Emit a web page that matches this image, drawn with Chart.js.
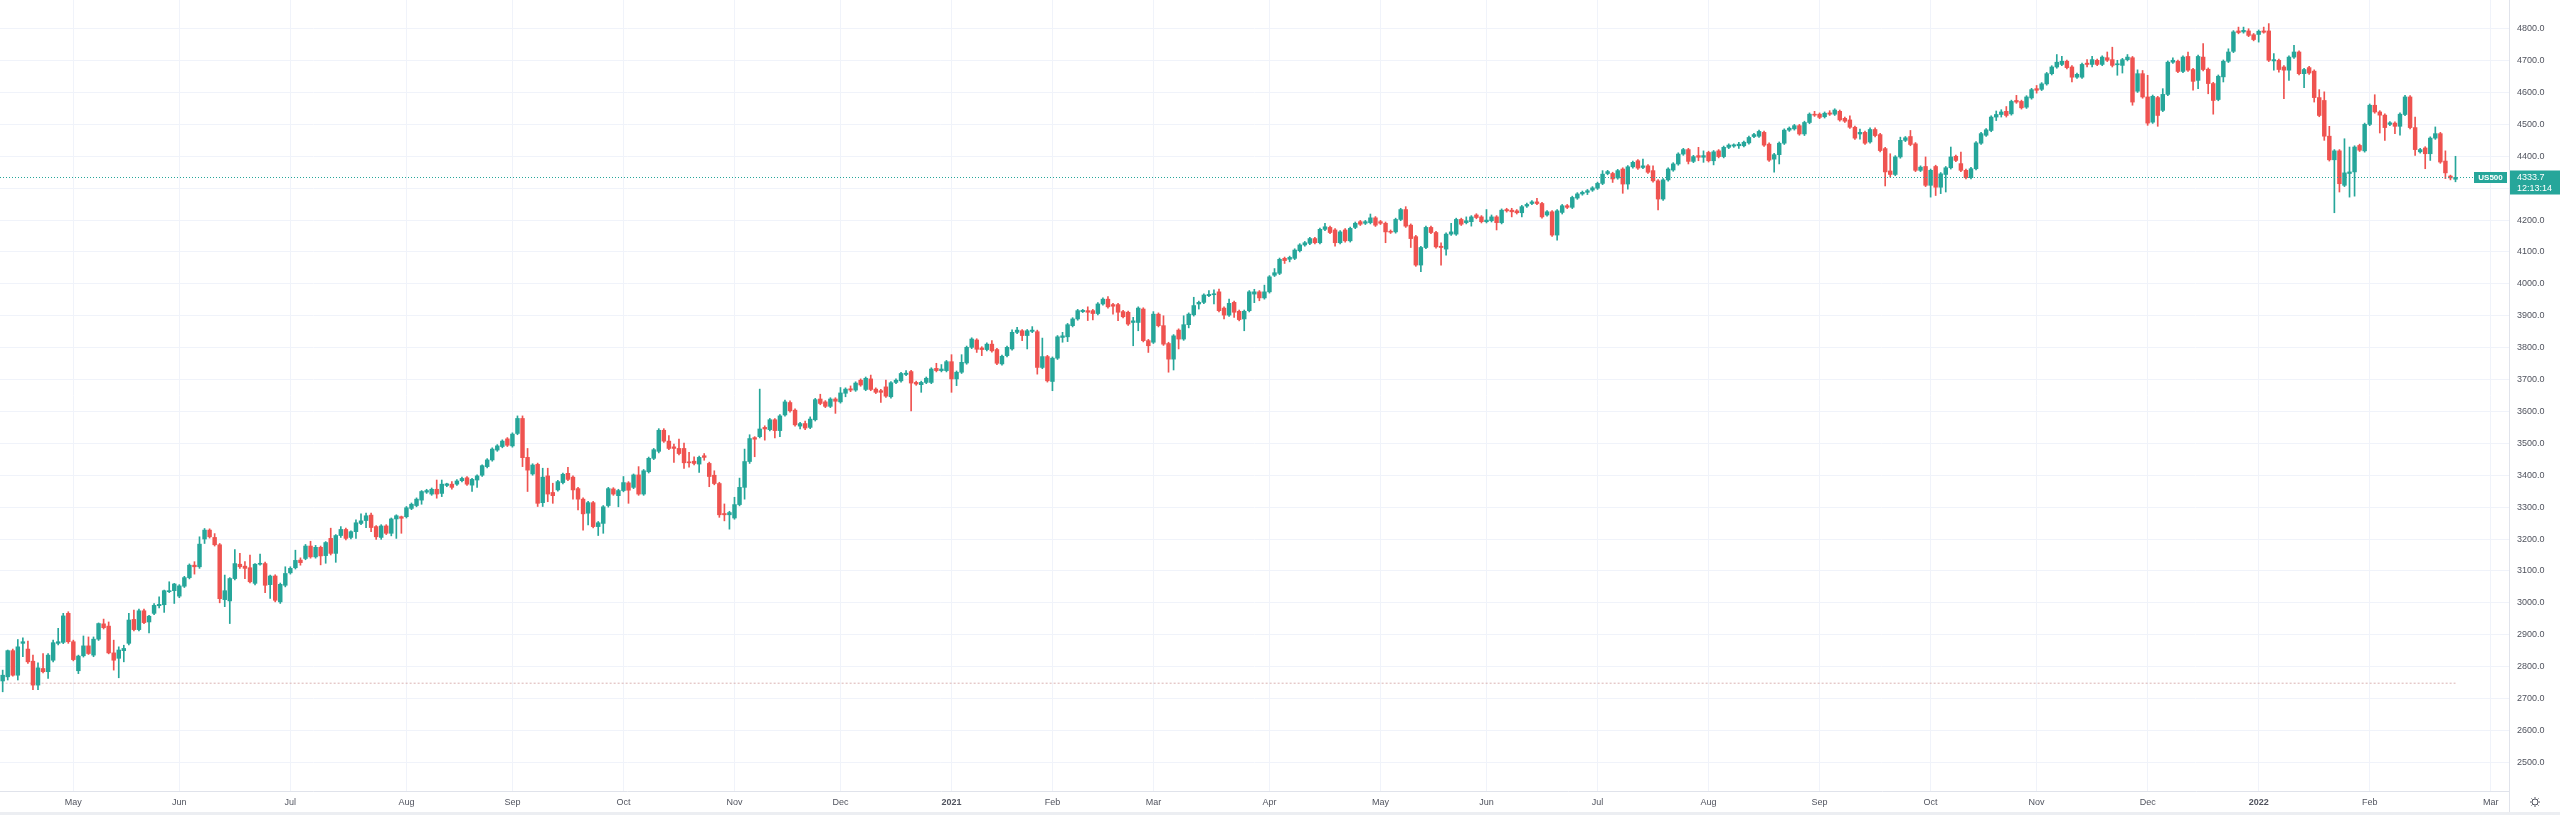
<!DOCTYPE html>
<html>
<head>
<meta charset="utf-8">
<script src="https://cdn.jsdelivr.net/npm/chart.js@4.4.1/dist/chart.umd.min.js"></script>
<style>
html, body { margin: 0; padding: 0; background: #ffffff; }
#wrap { width: 2560px; height: 815px; }
</style>
</head>
<body>
<div id="wrap"><canvas id="candles" width="2560" height="815"></canvas></div>
<script>
// daily US500 bars (one row = 10 bars)
var barOpen = [
	2755, 2768, 2850, 2773, 2873, 2855, 2817, 2742, 2794, 2784,
	2820, 2873, 2876, 2967, 2878, 2787, 2834, 2865, 2836, 2886,
	2934, 2927, 2843, 2826, 2850, 2873, 2948, 2916, 2975, 2940,
	2967, 2991, 2994, 3035, 3038, 3021, 3052, 3079, 3118, 3113,
	3200, 3228, 3205, 3182, 3010, 3006, 3076, 3121, 3115, 3110,
	3061, 3121, 3123, 3057, 3084, 3003, 3055, 3094, 3110, 3134,
	3139, 3178, 3144, 3174, 3148, 3202, 3155, 3211, 3230, 3205,
	3223, 3249, 3258, 3275, 3239, 3205, 3241, 3218, 3263, 3270,
	3270, 3296, 3305, 3322, 3347, 3341, 3356, 3343, 3368, 3372,
	3372, 3383, 3392, 3369, 3385, 3400, 3427, 3448, 3479, 3490,
	3514, 3492, 3531, 3578, 3456, 3404, 3434, 3314, 3398, 3346,
	3354, 3377, 3406, 3394, 3358, 3325, 3281, 3314, 3239, 3249,
	3305, 3357, 3336, 3352, 3376, 3362, 3401, 3341, 3411, 3453,
	3475, 3541, 3507, 3489, 3484, 3484, 3442, 3444, 3435, 3461,
	3437, 3400, 3374, 3280, 3276, 3266, 3308, 3362, 3443, 3518,
	3521, 3550, 3543, 3574, 3540, 3589, 3628, 3604, 3554, 3562,
	3550, 3574, 3639, 3630, 3616, 3639, 3630, 3657, 3671, 3667,
	3698, 3669, 3702, 3670, 3665, 3677, 3646, 3691, 3696, 3716,
	3725, 3691, 3684, 3691, 3691, 3735, 3728, 3728, 3756, 3702,
	3723, 3752, 3801, 3824, 3799, 3794, 3811, 3794, 3749, 3775,
	3796, 3848, 3853, 3838, 3851, 3850, 3738, 3772, 3694, 3767,
	3832, 3834, 3869, 3890, 3913, 3916, 3916, 3907, 3937, 3952,
	3935, 3935, 3913, 3911, 3879, 3879, 3921, 3822, 3817, 3905,
	3869, 3813, 3764, 3855, 3827, 3872, 3903, 3937, 3942, 3963,
	3966, 3975, 3924, 3902, 3942, 3914, 3890, 3916, 3968, 3975,
	3956, 3975, 4027, 4033, 4080, 4077, 4080, 4104, 4122, 4127,
	4142, 4129, 4171, 4177, 4169, 4129, 4169, 4135, 4177, 4195,
	4190, 4192, 4207, 4195, 4190, 4165, 4163, 4202, 4233, 4184,
	4148, 4059, 4114, 4177, 4161, 4118, 4109, 4156, 4156, 4202,
	4192, 4195, 4216, 4210, 4195, 4198, 4210, 4192, 4233, 4231,
	4229, 4223, 4244, 4252, 4257, 4252, 4216, 4226, 4153, 4224,
	4245, 4240, 4269, 4282, 4287, 4294, 4300, 4315, 4346, 4346,
	4332, 4360, 4313, 4367, 4386, 4365, 4370, 4355, 4323, 4266,
	4326, 4357, 4376, 4407, 4421, 4384, 4402, 4397, 4412, 4386,
	4417, 4399, 4428, 4432, 4433, 4433, 4442, 4462, 4463, 4475,
	4438, 4391, 4405, 4441, 4482, 4486, 4496, 4470, 4506, 4532,
	4532, 4524, 4536, 4532, 4541, 4519, 4514, 4491, 4470, 4475,
	4445, 4484, 4468, 4424, 4354, 4343, 4398, 4450, 4462, 4439,
	4356, 4368, 4309, 4368, 4303, 4343, 4364, 4400, 4377, 4356,
	4333, 4361, 4441, 4466, 4481, 4523, 4531, 4541, 4533, 4575,
	4572, 4554, 4583, 4612, 4610, 4627, 4659, 4680, 4688, 4698,
	4680, 4648, 4648, 4692, 4688, 4701, 4688, 4709, 4703, 4687,
	4685, 4703, 4709, 4604, 4659, 4586, 4507, 4584, 4544, 4594,
	4695, 4698, 4666, 4713, 4672, 4638, 4711, 4673, 4628, 4578,
	4649, 4698, 4729, 4793, 4790, 4793, 4781, 4782, 4793, 4793,
	4699, 4701, 4680, 4670, 4711, 4727, 4659, 4678, 4667, 4584,
	4575, 4463, 4389, 4417, 4309, 4346, 4351, 4434, 4417, 4500,
	4560, 4539, 4529, 4500, 4504, 4494, 4531, 4586, 4490, 4414,
	4426, 4408, 4457, 4471, 4385, 4338, 4328
];
var barHigh = [
	2789, 2852, 2855, 2885, 2890, 2880, 2836, 2812, 2841, 2841,
	2883, 2920, 2967, 2972, 2883, 2836, 2896, 2893, 2893, 2937,
	2949, 2940, 2883, 2862, 2867, 2967, 2977, 2980, 2980, 2961,
	2998, 3019, 3040, 3066, 3061, 3057, 3083, 3122, 3129, 3207,
	3233, 3232, 3217, 3186, 3087, 3079, 3167, 3155, 3129, 3150,
	3123, 3153, 3128, 3087, 3088, 3062, 3113, 3113, 3165, 3141,
	3183, 3193, 3180, 3178, 3192, 3234, 3214, 3239, 3234, 3226,
	3260, 3279, 3281, 3281, 3242, 3245, 3245, 3266, 3276, 3272,
	3302, 3313, 3329, 3352, 3356, 3360, 3385, 3385, 3375, 3380,
	3386, 3394, 3396, 3390, 3401, 3433, 3452, 3486, 3496, 3511,
	3518, 3533, 3586, 3586, 3484, 3436, 3438, 3422, 3422, 3375,
	3384, 3407, 3425, 3398, 3362, 3329, 3318, 3318, 3255, 3305,
	3362, 3361, 3356, 3396, 3380, 3404, 3427, 3418, 3457, 3484,
	3546, 3546, 3524, 3498, 3513, 3501, 3472, 3458, 3460, 3468,
	3441, 3414, 3378, 3310, 3287, 3331, 3391, 3482, 3527, 3521,
	3670, 3555, 3578, 3578, 3590, 3636, 3633, 3608, 3566, 3570,
	3583, 3641, 3654, 3634, 3643, 3643, 3675, 3674, 3680, 3693,
	3702, 3708, 3714, 3674, 3669, 3698, 3694, 3702, 3723, 3728,
	3729, 3695, 3695, 3708, 3737, 3751, 3747, 3760, 3778, 3727,
	3778, 3805, 3831, 3828, 3803, 3815, 3822, 3798, 3777, 3805,
	3856, 3864, 3857, 3857, 3866, 3855, 3830, 3776, 3771, 3838,
	3848, 3876, 3894, 3920, 3920, 3928, 3920, 3941, 3956, 3960,
	3939, 3939, 3917, 3915, 3895, 3928, 3925, 3826, 3913, 3909,
	3900, 3817, 3841, 3859, 3900, 3909, 3958, 3946, 3969, 3979,
	3981, 3984, 3928, 3952, 3946, 3918, 3918, 3979, 3983, 3979,
	3996, 4026, 4048, 4081, 4084, 4087, 4110, 4126, 4133, 4146,
	4146, 4175, 4190, 4181, 4173, 4167, 4173, 4178, 4194, 4199,
	4199, 4219, 4211, 4199, 4194, 4169, 4206, 4237, 4242, 4188,
	4152, 4118, 4181, 4181, 4165, 4129, 4160, 4190, 4206, 4206,
	4210, 4214, 4220, 4214, 4233, 4216, 4214, 4235, 4237, 4237,
	4233, 4246, 4253, 4261, 4268, 4256, 4230, 4230, 4233, 4249,
	4249, 4275, 4286, 4291, 4296, 4305, 4319, 4355, 4356, 4350,
	4359, 4364, 4371, 4385, 4390, 4391, 4374, 4370, 4327, 4330,
	4364, 4380, 4411, 4425, 4425, 4403, 4428, 4417, 4416, 4418,
	4421, 4432, 4439, 4439, 4444, 4448, 4463, 4472, 4482, 4479,
	4442, 4409, 4445, 4486, 4492, 4500, 4500, 4510, 4536, 4541,
	4536, 4539, 4543, 4549, 4545, 4523, 4527, 4495, 4485, 4479,
	4489, 4489, 4472, 4428, 4408, 4402, 4460, 4462, 4481, 4443,
	4370, 4398, 4360, 4372, 4349, 4368, 4429, 4404, 4413, 4360,
	4365, 4446, 4475, 4487, 4527, 4542, 4546, 4556, 4576, 4591,
	4576, 4590, 4613, 4622, 4631, 4663, 4684, 4719, 4713, 4702,
	4684, 4661, 4692, 4703, 4713, 4705, 4715, 4727, 4742, 4701,
	4707, 4719, 4713, 4671, 4669, 4654, 4592, 4588, 4612, 4699,
	4709, 4702, 4715, 4727, 4676, 4717, 4753, 4677, 4632, 4655,
	4702, 4737, 4794, 4805, 4805, 4800, 4785, 4796, 4805, 4816,
	4722, 4705, 4684, 4715, 4748, 4731, 4676, 4682, 4671, 4609,
	4602, 4494, 4421, 4421, 4455, 4429, 4433, 4438, 4504, 4564,
	4593, 4543, 4533, 4509, 4508, 4536, 4591, 4590, 4523, 4425,
	4430, 4461, 4492, 4475, 4417, 4341, 4400
];
var barLow = [
	2721, 2758, 2770, 2758, 2831, 2810, 2728, 2728, 2780, 2763,
	2815, 2868, 2872, 2873, 2818, 2778, 2830, 2838, 2831, 2882,
	2918, 2840, 2789, 2765, 2815, 2868, 2912, 2912, 2935, 2906,
	2963, 2984, 2970, 3032, 2998, 3016, 3048, 3075, 3090, 3108,
	3186, 3203, 3178, 3000, 2988, 2935, 3072, 3108, 3076, 3062,
	3056, 3118, 3032, 3014, 3003, 2998, 3050, 3090, 3106, 3118,
	3135, 3140, 3140, 3119, 3124, 3150, 3127, 3205, 3197, 3200,
	3202, 3245, 3236, 3223, 3199, 3199, 3214, 3210, 3202, 3218,
	3266, 3292, 3301, 3309, 3343, 3337, 3328, 3333, 3364, 3356,
	3368, 3379, 3368, 3349, 3362, 3396, 3423, 3444, 3475, 3486,
	3490, 3488, 3527, 3427, 3349, 3400, 3302, 3302, 3317, 3312,
	3350, 3373, 3383, 3325, 3291, 3228, 3244, 3235, 3211, 3218,
	3300, 3337, 3301, 3348, 3312, 3358, 3337, 3337, 3407, 3449,
	3470, 3503, 3480, 3440, 3464, 3421, 3425, 3432, 3409, 3447,
	3364, 3370, 3268, 3257, 3231, 3262, 3304, 3325, 3437, 3458,
	3517, 3510, 3539, 3517, 3521, 3585, 3598, 3554, 3545, 3543,
	3546, 3570, 3621, 3612, 3612, 3594, 3626, 3646, 3662, 3663,
	3679, 3665, 3665, 3656, 3628, 3644, 3642, 3687, 3692, 3712,
	3602, 3682, 3660, 3687, 3687, 3724, 3724, 3724, 3660, 3681,
	3719, 3748, 3797, 3785, 3775, 3790, 3786, 3747, 3745, 3771,
	3792, 3844, 3822, 3796, 3847, 3717, 3734, 3692, 3665, 3763,
	3817, 3819, 3865, 3886, 3910, 3885, 3887, 3903, 3933, 3924,
	3905, 3885, 3893, 3870, 3806, 3853, 3818, 3785, 3813, 3865,
	3807, 3723, 3730, 3796, 3823, 3862, 3899, 3921, 3938, 3960,
	3937, 3912, 3890, 3898, 3895, 3884, 3853, 3912, 3941, 3947,
	3952, 3971, 4023, 4029, 4064, 4069, 4076, 4100, 4118, 4123,
	4125, 4125, 4167, 4157, 4118, 4125, 4131, 4131, 4173, 4183,
	4186, 4188, 4180, 4186, 4129, 4158, 4159, 4198, 4177, 4114,
	4055, 4038, 4110, 4157, 4112, 4059, 4090, 4152, 4152, 4183,
	4188, 4181, 4204, 4191, 4191, 4194, 4169, 4188, 4225, 4210,
	4219, 4210, 4240, 4248, 4248, 4206, 4212, 4149, 4137, 4219,
	4236, 4236, 4265, 4278, 4280, 4290, 4296, 4311, 4342, 4318,
	4328, 4284, 4297, 4363, 4359, 4361, 4346, 4319, 4232, 4262,
	4322, 4353, 4372, 4403, 4376, 4380, 4386, 4381, 4382, 4373,
	4395, 4395, 4424, 4428, 4425, 4429, 4438, 4458, 4459, 4431,
	4384, 4350, 4376, 4437, 4478, 4482, 4466, 4465, 4502, 4525,
	4518, 4520, 4528, 4528, 4510, 4506, 4487, 4453, 4454, 4437,
	4441, 4461, 4414, 4307, 4335, 4339, 4394, 4446, 4433, 4352,
	4352, 4305, 4272, 4277, 4283, 4288, 4360, 4383, 4352, 4329,
	4329, 4357, 4437, 4462, 4477, 4512, 4523, 4523, 4529, 4566,
	4548, 4550, 4579, 4598, 4606, 4623, 4655, 4676, 4684, 4674,
	4633, 4644, 4644, 4680, 4680, 4684, 4684, 4697, 4680, 4654,
	4661, 4699, 4560, 4600, 4582, 4497, 4503, 4494, 4540, 4590,
	4691, 4662, 4662, 4666, 4607, 4612, 4668, 4596, 4532, 4574,
	4633, 4694, 4725, 4784, 4786, 4775, 4762, 4758, 4786, 4697,
	4670, 4664, 4581, 4638, 4707, 4655, 4615, 4657, 4570, 4524,
	4450, 4385, 4223, 4288, 4305, 4272, 4275, 4415, 4413, 4496,
	4535, 4473, 4450, 4496, 4471, 4466, 4527, 4486, 4403, 4410,
	4361, 4387, 4453, 4378, 4330, 4326, 4320
];
var barClose = [
	2773, 2850, 2773, 2862, 2878, 2815, 2742, 2796, 2784, 2836,
	2875, 2878, 2959, 2878, 2822, 2833, 2865, 2841, 2886, 2935,
	2922, 2843, 2820, 2852, 2857, 2946, 2916, 2975, 2938, 2958,
	2992, 2995, 3038, 3038, 3059, 3053, 3079, 3118, 3113, 3184,
	3228, 3207, 3182, 3013, 3038, 3076, 3123, 3113, 3108, 3066,
	3121, 3124, 3055, 3084, 3008, 3058, 3092, 3108, 3133, 3126,
	3178, 3144, 3174, 3147, 3189, 3155, 3211, 3230, 3202, 3223,
	3251, 3257, 3273, 3236, 3207, 3241, 3218, 3263, 3273, 3265,
	3298, 3309, 3325, 3349, 3352, 3356, 3341, 3372, 3373, 3362,
	3382, 3390, 3372, 3387, 3398, 3430, 3448, 3482, 3492, 3507,
	3494, 3529, 3578, 3455, 3416, 3432, 3312, 3394, 3341, 3336,
	3380, 3403, 3387, 3354, 3325, 3279, 3314, 3239, 3251, 3301,
	3358, 3341, 3352, 3377, 3353, 3401, 3341, 3414, 3453, 3480,
	3541, 3507, 3484, 3484, 3468, 3439, 3439, 3437, 3456, 3456,
	3396, 3374, 3276, 3276, 3283, 3308, 3362, 3443, 3515, 3513,
	3545, 3545, 3574, 3540, 3586, 3630, 3602, 3558, 3562, 3548,
	3576, 3637, 3625, 3616, 3639, 3632, 3658, 3670, 3667, 3689,
	3683, 3704, 3669, 3660, 3660, 3648, 3690, 3698, 3719, 3720,
	3689, 3686, 3691, 3704, 3733, 3728, 3733, 3756, 3702, 3723,
	3754, 3801, 3827, 3795, 3794, 3811, 3790, 3751, 3773, 3801,
	3848, 3855, 3838, 3853, 3855, 3738, 3772, 3696, 3767, 3834,
	3837, 3872, 3890, 3916, 3917, 3911, 3907, 3937, 3952, 3928,
	3930, 3911, 3897, 3874, 3884, 3924, 3822, 3806, 3905, 3869,
	3811, 3764, 3837, 3827, 3872, 3905, 3932, 3942, 3965, 3967,
	3969, 3916, 3902, 3939, 3911, 3888, 3914, 3975, 3975, 3956,
	3975, 4022, 4035, 4077, 4073, 4083, 4106, 4122, 4129, 4142,
	4129, 4171, 4179, 4161, 4129, 4163, 4135, 4174, 4190, 4187,
	4195, 4207, 4184, 4190, 4163, 4162, 4202, 4233, 4181, 4142,
	4059, 4114, 4177, 4161, 4116, 4114, 4156, 4163, 4202, 4187,
	4198, 4210, 4208, 4195, 4200, 4210, 4192, 4231, 4229, 4226,
	4223, 4242, 4249, 4257, 4252, 4210, 4226, 4153, 4229, 4245,
	4240, 4271, 4282, 4287, 4292, 4301, 4315, 4344, 4352, 4329,
	4355, 4313, 4367, 4381, 4363, 4370, 4350, 4323, 4266, 4326,
	4360, 4376, 4407, 4421, 4384, 4399, 4397, 4402, 4386, 4414,
	4399, 4428, 4435, 4436, 4438, 4444, 4459, 4468, 4478, 4435,
	4388, 4405, 4441, 4482, 4488, 4496, 4470, 4506, 4532, 4529,
	4522, 4535, 4532, 4545, 4514, 4510, 4491, 4457, 4475, 4441,
	4484, 4465, 4418, 4351, 4343, 4398, 4450, 4458, 4437, 4356,
	4366, 4309, 4356, 4303, 4345, 4364, 4398, 4387, 4356, 4333,
	4361, 4442, 4471, 4483, 4523, 4531, 4539, 4528, 4572, 4570,
	4552, 4586, 4609, 4607, 4627, 4659, 4680, 4695, 4698, 4678,
	4648, 4657, 4688, 4688, 4703, 4688, 4711, 4701, 4685, 4690,
	4703, 4711, 4570, 4659, 4586, 4504, 4588, 4528, 4594, 4695,
	4701, 4666, 4711, 4670, 4635, 4713, 4672, 4628, 4575, 4651,
	4698, 4727, 4790, 4788, 4795, 4779, 4766, 4792, 4789, 4701,
	4703, 4672, 4670, 4711, 4727, 4659, 4672, 4661, 4584, 4528,
	4463, 4389, 4417, 4314, 4348, 4351, 4429, 4419, 4500, 4560,
	4539, 4529, 4490, 4505, 4494, 4532, 4586, 4490, 4421, 4421,
	4408, 4457, 4471, 4382, 4348, 4332, 4333.7
];

// first bar of each month and its label
var monthBar = [14, 35, 57, 80, 101, 123, 145, 166, 188, 208, 228, 251, 273, 294, 316, 338, 360, 382, 403, 425, 447, 469, 493];
var monthLabel = ['May', 'Jun', 'Jul', 'Aug', 'Sep', 'Oct', 'Nov', 'Dec', '2021', 'Feb', 'Mar', 'Apr',
	'May', 'Jun', 'Jul', 'Aug', 'Sep', 'Oct', 'Nov', 'Dec', '2022', 'Feb', 'Mar'];
var priceTicks = [2500, 2600, 2700, 2800, 2900, 3000, 3100, 3200, 3300, 3400, 3500, 3600,
	3700, 3800, 3900, 4000, 4100, 4200, 4300, 4400, 4500, 4600, 4700, 4800];

var symbolName = 'US500';
var lastClock = '12:13:14';
var lowLevel = 2748;

var UP = '#26a69a';
var DOWN = '#ef5350';
var GRID = '#f0f3fa';
var TEXT = '#50535e';
var FONT = '"Liberation Sans", Arial, sans-serif';

var barColor = barClose.map(function (c, i) { return c >= barOpen[i] ? UP : DOWN; });
var wickData = barClose.map(function (c, i) { return { x: i, y: [barLow[i], barHigh[i]] }; });
var bodyData = barClose.map(function (c, i) {
	return { x: i, y: [Math.min(barOpen[i], c), Math.max(barOpen[i], c)] };
});

var overlay = {
	id: 'overlay',
	afterDatasetsDraw: function (chart) {
		var ctx = chart.ctx;
		var area = chart.chartArea;
		var last = barClose[barClose.length - 1];
		var py = Math.round(chart.scales.y.getPixelForValue(last)) + 0.5;

		ctx.save();
		// last price line
		ctx.strokeStyle = UP;
		ctx.lineWidth = 1;
		ctx.setLineDash([1, 2]);
		ctx.beginPath();
		ctx.moveTo(area.left, py);
		ctx.lineTo(area.right - 35, py);
		ctx.stroke();
		ctx.setLineDash([]);

		// symbol tag and price box
		ctx.fillStyle = UP;
		ctx.fillRect(area.right - 35, py - 5.5, 33, 11);
		ctx.fillRect(area.right, py - 7, chart.width - area.right, 24);
		ctx.fillStyle = '#ffffff';
		ctx.textBaseline = 'middle';
		ctx.textAlign = 'center';
		ctx.font = 'bold 8px ' + FONT;
		ctx.fillText(symbolName, area.right - 18.5, py);
		ctx.textAlign = 'left';
		ctx.font = '9px ' + FONT;
		ctx.fillText(last.toFixed(1), area.right + 8, py);
		ctx.fillText(lastClock, area.right + 8, py + 11);

		// axis separator down through the time scale
		ctx.strokeStyle = '#e0e3eb';
		ctx.beginPath();
		ctx.moveTo(Math.round(area.right) + 0.5, area.top);
		ctx.lineTo(Math.round(area.right) + 0.5, chart.height);
		ctx.stroke();

		// thin band along the bottom edge
		ctx.fillStyle = '#eceef2';
		ctx.fillRect(0, chart.height - 3, chart.width, 3);

		// settings gear
		var gx = 2535, gy = 802;
		ctx.strokeStyle = '#50535e';
		ctx.lineWidth = 1;
		ctx.beginPath();
		ctx.arc(gx, gy, 3, 0, Math.PI * 2);
		ctx.stroke();
		for (var k = 0; k < 8; k++) {
			var a = k * Math.PI / 4;
			ctx.beginPath();
			ctx.moveTo(gx + Math.cos(a) * 3.5, gy + Math.sin(a) * 3.5);
			ctx.lineTo(gx + Math.cos(a) * 5, gy + Math.sin(a) * 5);
			ctx.stroke();
		}
		ctx.restore();
	}
};

// eslint-disable-next-line no-undef
var chart = new Chart(document.getElementById('candles'), {
	type: 'bar',
	data: {
		datasets: [{
			label: 'wick',
			data: wickData,
			backgroundColor: barColor,
			barThickness: 1,
			grouped: false,
			order: 2
		}, {
			label: 'body',
			data: bodyData,
			backgroundColor: barColor,
			barThickness: 3.8,
			grouped: false,
			order: 1
		}, {
			type: 'line',
			label: 'level',
			data: [{ x: -1, y: lowLevel }, { x: barClose.length - 1, y: lowLevel }],
			borderColor: 'rgba(214, 170, 170, 0.9)',
			borderWidth: 1,
			borderDash: [2, 2],
			pointRadius: 0,
			order: 3
		}]
	},
	options: {
		responsive: false,
		devicePixelRatio: 1,
		animation: false,
		layout: { padding: 0 },
		plugins: {
			legend: { display: false },
			tooltip: { enabled: false }
		},
		scales: {
			x: {
				type: 'linear',
				min: -0.53,
				max: 496.6,
				offset: false,
				grid: { color: GRID, offset: false, drawTicks: false },
				border: { color: '#e0e3eb' },
				afterBuildTicks: function (scale) {
					scale.ticks = monthBar.map(function (v) { return { value: v }; });
				},
				afterFit: function (scale) {
					scale.height = 24;
					scale.paddingLeft = 0;
					scale.paddingRight = 0;
				},
				ticks: {
					autoSkip: false,
					maxRotation: 0,
					minRotation: 0,
					padding: 6,
					color: TEXT,
					font: function (c) {
						var yr = /^\d{4}$/.test(monthLabel[c.index] || '');
						return { family: FONT, size: 9, weight: yr ? 'bold' : 'normal' };
					},
					callback: function (v, i) { return monthLabel[i]; }
				}
			},
			y: {
				position: 'right',
				min: 2410,
				max: 4890,
				grid: { color: GRID, drawTicks: false },
				border: { color: '#e0e3eb' },
				afterBuildTicks: function (scale) {
					scale.ticks = priceTicks.map(function (v) { return { value: v }; });
				},
				afterFit: function (scale) {
					scale.width = 51;
					scale.paddingTop = 0;
					scale.paddingBottom = 0;
				},
				ticks: {
					padding: 8,
					crossAlign: 'near',
					color: TEXT,
					font: { family: FONT, size: 9 },
					callback: function (v) { return Number(v).toFixed(1); }
				}
			}
		}
	},
	plugins: [overlay]
});
</script>
</body>
</html>
